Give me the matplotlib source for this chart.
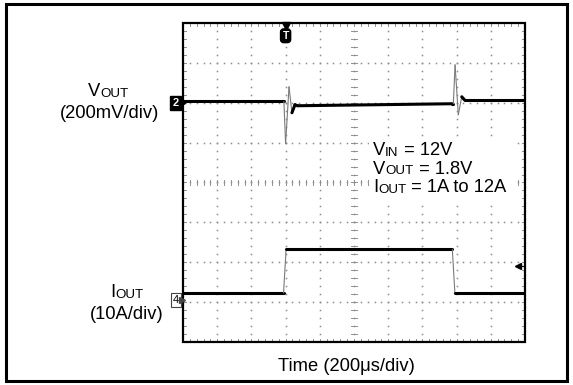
"""
Load transient scope capture: VOUT (AC) and IOUT for a 1A to 12A step.
"""

import numpy as np
import matplotlib.pyplot as plt
from matplotlib.collections import LineCollection
from matplotlib.patches import Rectangle

plt.rcParams['font.family'] = ['Liberation Sans', 'DejaVu Sans']

W, H = 573, 385

# scope settings
t_per_div = 200      # us/div
v_per_div = 200      # mV/div
i_per_div = 10       # A/div
t_left = -600        # us at left edge of screen (trigger at 0)
ch2_pos = 2.0        # div, VOUT reference marker
ch4_pos = -2.875     # div, IOUT zero marker
trig_level = 7.85    # A

# VOUT deviation (mV)
vout_t = [-600, -10, 0, 20, 37, 55, 70, 975, 981, 991, 1010, 1030, 1049, 1400]
vout_mv = [7, 7, -205, 80, -50, -10, -15, -5, -5, 190, -60, 30, 12, 12]

# IOUT (A)
iout_t = [-600, -12, 3, 975, 990, 1400]
iout_a = [1, 1, 12, 12, 1, 1]


def px(x, y):
    return x / W, 1 - y / H


def to_div_x(t):
    return (np.asarray(t, float) - t_left) / t_per_div


def trace(ax, x, y):
    # fast edges are drawn thin and grey like on the scope screen
    pts = np.column_stack([x, y])
    segs = np.stack([pts[:-1], pts[1:]], axis=1)
    slope = np.abs(np.diff(y)) / np.maximum(np.diff(x), 1e-9)
    steep = slope > 3
    colors = ['#7a7a7a' if s else 'black' for s in steep]
    widths = [0.8 if s else 2.2 for s in steep]
    ax.add_collection(LineCollection(segs, colors=colors, linewidths=widths,
                                     capstyle='round', zorder=5))


fig = plt.figure(figsize=(W / 100, H / 100), dpi=100)
ax = fig.add_axes([183 / W, 43 / H, 342 / W, 319 / H])
ax.set_xlim(0, 10)
ax.set_ylim(-4, 4)
ax.axis('off')

# graticule dots
grid_c = '#8c8c8c'
for xi in range(1, 10):
    ys = np.linspace(-4, 4, 41)
    ax.plot(np.full_like(ys, xi), ys, ls='none', marker='s', ms=1.1,
            mew=0, color=grid_c, zorder=1)
for yi in range(-3, 4):
    xs = np.linspace(0, 10, 51)
    ax.plot(xs, np.full_like(xs, yi), ls='none', marker='s', ms=1.1,
            mew=0, color=grid_c, zorder=1)

# minor ticks on center lines and border
tick_c = '#909090'
for yv in np.linspace(-4, 4, 41):
    ax.plot([4.92, 5.08], [yv, yv], color=tick_c, lw=0.7, zorder=1)
    ax.plot([0, 0.08], [yv, yv], color=tick_c, lw=0.7, zorder=1)
    ax.plot([9.92, 10], [yv, yv], color=tick_c, lw=0.7, zorder=1)
for xv in np.linspace(0, 10, 51):
    ax.plot([xv, xv], [-0.07, 0.07], color=tick_c, lw=0.7, zorder=1)
    ax.plot([xv, xv], [3.93, 4], color=tick_c, lw=0.7, zorder=1)
    ax.plot([xv, xv], [-4, -3.93], color=tick_c, lw=0.7, zorder=1)

ax.add_patch(Rectangle((0, -4), 10, 8, fill=False, lw=1.6, ec='black',
                       zorder=6, clip_on=False))

# traces
trace(ax, to_div_x(vout_t), ch2_pos + np.array(vout_mv) / v_per_div)
trace(ax, to_div_x(iout_t), ch4_pos + np.array(iout_a) / i_per_div)

# white panel behind the conditions text
ax.add_patch(Rectangle((5.44, -0.43), 4.33, 1.58, fc='white', ec='none',
                       zorder=3))

# channel markers
ax.text(-0.21, ch2_pos, '2', color='white', fontsize=8, fontweight='bold',
        ha='center', va='center', zorder=7, clip_on=False,
        bbox=dict(boxstyle='square,pad=0.2', fc='black', ec='black'))
ax.plot(-0.04, ch2_pos, marker='>', ms=4, color='black', clip_on=False,
        zorder=7)
ax.text(-0.21, ch4_pos - 0.07, '4', color='black', fontsize=8,
        ha='center', va='center', zorder=7, clip_on=False,
        bbox=dict(boxstyle='square,pad=0.2', fc='white', ec='#444', lw=0.8))
ax.plot(-0.04, ch4_pos - 0.07, marker='>', ms=4, color='#444',
        clip_on=False, zorder=7)

# trigger position and level
xt = to_div_x(0)
ax.plot(xt, 3.92, marker='v', ms=6, color='black', clip_on=False, zorder=7)
ax.text(xt, 3.68, 'T', color='white', fontsize=7.5, fontweight='bold',
        ha='center', va='center', zorder=7,
        bbox=dict(boxstyle='round,pad=0.18,rounding_size=0.3', fc='black',
                  ec='black'))
y_trig = ch4_pos + trig_level / i_per_div
ax.plot([9.8, 10], [y_trig, y_trig], color='black', lw=0.8, zorder=7)
ax.plot(9.8, y_trig, marker='<', ms=4.5, color='black', zorder=7)


def sub_label(x, y, parts, size=13.2, sub=9.6):
    # chain pieces so subscripts sit right after their letter
    prev = fig.text(*px(x, y), parts[0][0], fontsize=size, va='baseline')
    for s, is_sub in parts[1:]:
        prev = ax.annotate(s, xy=(1, 0), xycoords=prev, ha='left',
                           va='bottom', fontsize=sub if is_sub else size,
                           annotation_clip=False)
    return prev


sub_label(88, 96.5, [('V', 0), ('OUT', 1)])
fig.text(*px(110, 118.5), '(200mV/div)', fontsize=13.2, ha='center',
         va='baseline')
sub_label(110, 297, [('I', 0), ('OUT', 1)])
fig.text(*px(127, 319), '(10A/div)', fontsize=13.2, ha='center',
         va='baseline')
fig.text(*px(346.5, 371), 'Time (200μs/div)', fontsize=13.2, ha='center',
         va='baseline')

sub_label(373, 155, [('V', 0), ('IN', 1), (' = 12V', 0)])
sub_label(373, 173.5, [('V', 0), ('OUT', 1), (' = 1.8V', 0)])
sub_label(373, 192, [('I', 0), ('OUT', 1), (' = 1A to 12A', 0)])

# outer frame
fig.add_artist(Rectangle((6 / W, 4 / H), 561 / W, 377 / H,
                         transform=fig.transFigure, fill=False, lw=2.2,
                         ec='black'))

fig.savefig('out.png', dpi=100)
